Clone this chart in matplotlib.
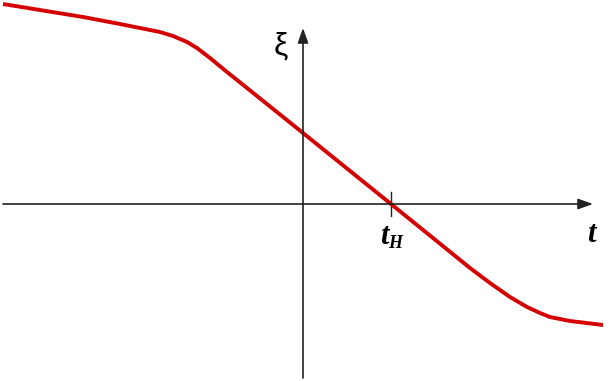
import matplotlib.pyplot as plt
import numpy as np

# curve (t, xi), origin at the axis crossing
t = np.array([-3.00, -2.20, -1.83, -1.63, -1.43, -1.30, -1.16, -1.06, -0.93, -0.76,
              -0.56, 0.00, 0.88, 1.67, 1.87, 2.07, 2.24, 2.37, 2.47, 2.67, 3.00])
xi = np.array([2.00, 1.87, 1.80, 1.76, 1.72, 1.68, 1.62, 1.56, 1.46, 1.32,
               1.16, 0.71, 0.00, -0.64, -0.79, -0.93, -1.03, -1.09, -1.13, -1.17, -1.21])
t_H = 0.88

fig = plt.figure(figsize=(6.1, 3.81), dpi=100)
ax = fig.add_axes([0, 0, 1, 1])
ax.set_xlim(-3.03, 3.07)
ax.set_ylim(-1.77, 2.04)
ax.axis('off')

ax.plot(t, xi, color='#d40000', lw=2.8, solid_capstyle='butt',
        solid_joinstyle='round', zorder=3)

ak = dict(arrowstyle='-|>,head_length=0.9,head_width=0.32', color='#222222', lw=1.2,
          shrinkA=0, shrinkB=0)
ax.annotate('', xy=(2.90, 0), xytext=(-3.00, 0), arrowprops=ak)
ax.annotate('', xy=(0, 1.76), xytext=(0, -1.74), arrowprops=ak)
ax.plot([t_H, t_H], [-0.12, 0.12], color='#222222', lw=1.0)

serif = 'Liberation Serif'
ax.text(-0.22, 1.57, 'ξ', family='Liberation Sans', fontsize=23, ha='center', va='center')
ax.text(2.88, -0.30, 't', family=serif, fontsize=22, style='italic', weight='bold',
        ha='center', va='center')
ax.text(0.81, -0.33, 't', family=serif, fontsize=22, style='italic', weight='bold',
        ha='center', va='center')
ax.text(0.92, -0.39, 'H', family=serif, fontsize=13, style='italic', weight='bold',
        ha='center', va='center')

fig.savefig('out.png', dpi=100)
